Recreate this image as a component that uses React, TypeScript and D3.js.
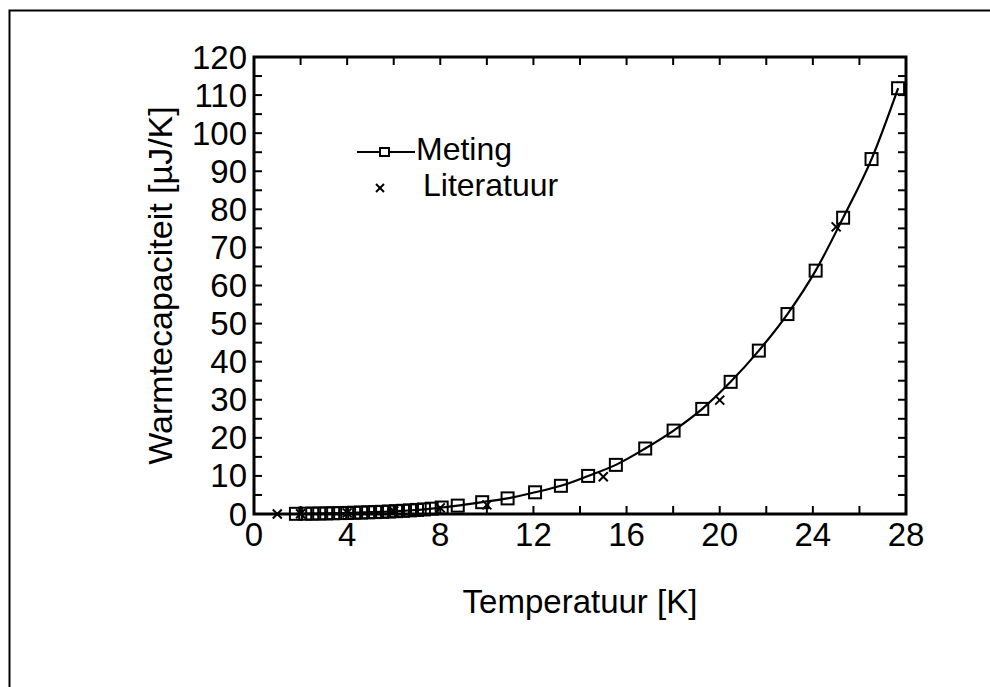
import React from 'react';
import * as d3 from 'd3';

// Meting (measured) - temperature [K] and heat capacity [uJ/K]
const metingT = [
  1.8, 2.2, 2.5, 2.8, 3.1, 3.4, 3.7, 4.0, 4.3, 4.6, 4.9, 5.2, 5.5, 5.8, 6.1, 6.4, 6.7, 7.0, 7.3,
  7.63, 8.06, 8.75, 9.8, 10.89, 12.07, 13.18, 14.35, 15.54, 16.8, 18.02, 19.25, 20.47, 21.68,
  22.91, 24.12, 25.3, 26.52, 27.66,
];
const metingC = [
  0.05, 0.08, 0.1, 0.13, 0.16, 0.2, 0.24, 0.28, 0.33, 0.38, 0.44, 0.5, 0.57, 0.65, 0.74, 0.84,
  0.95, 1.07, 1.2, 1.4, 1.7, 2.2, 3.1, 4.1, 5.7, 7.4, 10.0, 12.9, 17.2, 21.9, 27.6, 34.7, 42.9,
  52.5, 63.9, 77.8, 93.2, 111.8,
];

// Literatuur values
const literatuurT = [1, 2, 4, 6, 8, 10, 15, 20, 25];
const literatuurC = [0.02, 0.08, 0.3, 0.75, 1.6, 2.4, 9.8, 29.9, 75.4];

const xLabels = [0, 4, 8, 12, 16, 20, 24, 28];
const yLabels = [0, 10, 20, 30, 40, 50, 60, 70, 80, 90, 100, 110, 120];

const xTitle = 'Temperatuur [K]';
const yTitle = 'Warmtecapaciteit [µJ/K]';
const legendNames = ['Meting', 'Literatuur'];

const W = 990;
const H = 687;
const font = '"Liberation Sans", Arial, Helvetica, sans-serif';

export default function App() {
  const left = 254, right = 906, top = 57, bottom = 514;
  const x = d3.scaleLinear().domain([0, 28]).range([left, right]);
  const y = d3.scaleLinear().domain([0, 120]).range([bottom, top]);

  const xTicks = d3.range(0, 29, 2);
  const yTicks = d3.range(0, 121, 5);
  const tick = 8;

  const pts: [number, number][] = metingT.map((t, i) => [t, metingC[i]]);
  const line = d3
    .line<[number, number]>()
    .x((d) => x(d[0]))
    .y((d) => y(d[1]))
    .curve(d3.curveMonotoneX);

  const sq = 12;
  const cr = 4.5;

  return (
    <svg
      width={W}
      height={H}
      style={{ position: 'absolute', left: 0, top: 0, background: '#fff' }}
      fontFamily={font}
    >
      <rect x={0} y={0} width={W} height={H} fill="#fff" />
      {/* outer frame */}
      <rect x={9.5} y={10.5} width={W + 20} height={H + 20} fill="none" stroke="#000" strokeWidth={2} />

      {/* ticks */}
      <g stroke="#000" strokeWidth={2}>
        {xTicks.map((t) => (
          <g key={'xt' + t}>
            <line x1={x(t)} x2={x(t)} y1={bottom} y2={bottom - tick} />
            <line x1={x(t)} x2={x(t)} y1={top} y2={top + tick} />
          </g>
        ))}
        {yTicks.map((v) => (
          <g key={'yt' + v}>
            <line x1={left} x2={left + tick} y1={y(v)} y2={y(v)} />
            <line x1={right} x2={right - tick} y1={y(v)} y2={y(v)} />
          </g>
        ))}
      </g>
      <rect x={left} y={top} width={right - left} height={bottom - top} fill="none" stroke="#000" strokeWidth={3} />

      {/* tick labels */}
      <g fontSize={33} fill="#000">
        {xLabels.map((t) => (
          <text key={'xl' + t} x={x(t)} y={bottom + 32} textAnchor="middle">
            {t}
          </text>
        ))}
        {yLabels.map((v) => (
          <text key={'yl' + v} x={left - 7} y={y(v)} dy="0.35em" textAnchor="end">
            {v}
          </text>
        ))}
      </g>

      {/* titles */}
      <text x={(left + right) / 2} y={613} fontSize={33} textAnchor="middle">
        {xTitle}
      </text>
      <text
        transform={`translate(172,${(top + bottom) / 2}) rotate(-90)`}
        fontSize={34}
        textAnchor="middle"
      >
        {yTitle}
      </text>

      {/* data */}
      <path d={line(pts) || ''} fill="none" stroke="#000" strokeWidth={2.2} />
      <g fill="none" stroke="#000" strokeWidth={2}>
        {pts.map((d, i) => (
          <rect key={'m' + i} x={x(d[0]) - sq / 2} y={y(d[1]) - sq / 2} width={sq} height={sq} />
        ))}
        {literatuurT.map((t, i) => (
          <g key={'l' + i}>
            <line x1={x(t) - cr} x2={x(t) + cr} y1={y(literatuurC[i]) - cr} y2={y(literatuurC[i]) + cr} />
            <line x1={x(t) - cr} x2={x(t) + cr} y1={y(literatuurC[i]) + cr} y2={y(literatuurC[i]) - cr} />
          </g>
        ))}
      </g>

      {/* legend */}
      <g>
        <line x1={357} x2={415} y1={152} y2={152} stroke="#000" strokeWidth={2} />
        <rect x={380} y={148} width={9} height={8} fill="#fff" stroke="#000" strokeWidth={2} />
        <text x={416} y={160} fontSize={32}>
          {legendNames[0]}
        </text>
        <g stroke="#000" strokeWidth={2}>
          <line x1={376} x2={384} y1={184} y2={192} />
          <line x1={376} x2={384} y1={192} y2={184} />
        </g>
        <text x={423} y={196} fontSize={32}>
          {legendNames[1]}
        </text>
      </g>
    </svg>
  );
}
